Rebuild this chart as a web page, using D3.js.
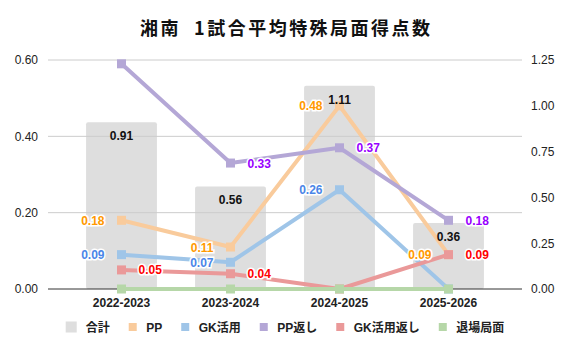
<!DOCTYPE html>
<html>
<head>
<meta charset="utf-8">
<script src="https://cdn.jsdelivr.net/npm/d3@7"></script>
<style>
  body { margin: 0; background: #fff; }
  svg { font-family: "Liberation Sans", Arial, "Noto Sans CJK JP", sans-serif; }
</style>
</head>
<body>
<div id="chart"></div>
<script>
const width = 570;
const height = 353;

const seasons = ["2022-2023", "2023-2024", "2024-2025", "2025-2026"];
const totals = [0.91, 0.56, 1.11, 0.36];          // 合計 (right axis)
const pp = [0.18, 0.11, 0.48, 0.09];
const gk = [0.09, 0.07, 0.26, 0.00];
const ppBack = [0.59, 0.33, 0.37, 0.18];
const gkBack = [0.05, 0.04, 0.00, 0.09];
const taijo = [0.00, 0.00, 0.00, 0.00];
const leftTicks = [0, 0.2, 0.4, 0.6];
const rightTicks = [0, 0.25, 0.5, 0.75, 1.0, 1.25];

// line series, drawn in this order
const series = [
    { name: "PP", values: pp, line: "#f9cb9c", label: "#ff9900", side: "left" },
    { name: "GK活用", values: gk, line: "#9fc5e8", label: "#4a86e8", side: "left" },
    { name: "PP返し", values: ppBack, line: "#b4a7d6", label: "#9900ff", side: "right", hide: [0] },
    { name: "GK活用返し", values: gkBack, line: "#ea9999", label: "#ff0000", side: "right" },
    { name: "退場局面", values: taijo, line: "#b6d7a8", label: "#38761d", side: "right" }
];

const x0 = 48, x1 = 522, yTop = 60, yBot = 289;

const svg = d3.select("#chart").append("svg")
    .attr("width", width)
    .attr("height", height);

const x = d3.scaleBand()
    .domain(seasons)
    .range([67, 503])
    .paddingInner(0.35)
    .paddingOuter(0.175);
const cx = d => x(d) + x.bandwidth() / 2;

const yL = d3.scaleLinear().domain([0, 0.6]).range([yBot, yTop]);
const yR = d3.scaleLinear().domain([0, 1.25]).range([yBot, yTop]);

// title
svg.append("text")
    .attr("x", width / 2)
    .attr("y", 35)
    .attr("text-anchor", "middle")
    .attr("font-family", "'Noto Sans CJK JP', sans-serif")
    .attr("font-weight", "bold")
    .attr("font-size", 18)
    .attr("textLength", 290)
    .attr("lengthAdjust", "spacing")
    .attr("fill", "#111")
    .text("湘南\u00a0\u00a01試合平均特殊局面得点数");

// bars
svg.selectAll("rect.bar")
    .data(totals)
    .enter()
    .append("rect")
    .attr("class", "bar")
    .attr("x", (d, i) => x(seasons[i]))
    .attr("y", d => yR(d))
    .attr("width", x.bandwidth())
    .attr("height", d => yBot - yR(d))
    .attr("rx", 2)
    .attr("fill", "#dedede");

// gridlines (over bars)
svg.selectAll("line.grid")
    .data(leftTicks.filter(t => t > 0))
    .enter()
    .append("line")
    .attr("x1", x0).attr("x2", x1)
    .attr("y1", d => yL(d)).attr("y2", d => yL(d))
    .attr("stroke", "#cccccc")
    .attr("stroke-width", 1);

// left axis
const leftAxis = svg.append("g")
    .attr("transform", `translate(${x0 - 7},0)`)
    .call(d3.axisLeft(yL).tickValues(leftTicks).tickFormat(d3.format(".2f")).tickSize(0));
leftAxis.select(".domain").remove();
leftAxis.selectAll("text").attr("font-size", 12).attr("fill", "#222").attr("font-family", "'Liberation Sans', Arial, sans-serif");

// right axis
const rightAxis = svg.append("g")
    .attr("transform", `translate(${x1 + 6},0)`)
    .call(d3.axisRight(yR).tickValues(rightTicks).tickFormat(d3.format(".2f")).tickSize(0));
rightAxis.select(".domain").remove();
rightAxis.selectAll("text").attr("font-size", 12).attr("fill", "#222").attr("font-family", "'Liberation Sans', Arial, sans-serif");

// baseline
svg.append("line")
    .attr("x1", x0).attr("x2", x1)
    .attr("y1", yBot).attr("y2", yBot)
    .attr("stroke", "#333")
    .attr("stroke-width", 1);

// x axis labels
svg.selectAll("text.xlab")
    .data(seasons)
    .enter()
    .append("text")
    .attr("class", "xlab")
    .attr("x", d => cx(d))
    .attr("y", 307)
    .attr("text-anchor", "middle")
    .attr("font-size", 12)
    .attr("font-weight", "bold")
    .attr("fill", "#222")
    .text(d => d);

// lines + markers
const lineGen = d3.line()
    .x((d, i) => cx(seasons[i]))
    .y(d => yL(d));

series.forEach(s => {
    svg.append("path")
        .datum(s.values)
        .attr("fill", "none")
        .attr("stroke", s.line)
        .attr("stroke-width", 4)
        .attr("stroke-linejoin", "round")
        .attr("d", lineGen);

    svg.selectAll(null)
        .data(s.values)
        .enter()
        .append("rect")
        .attr("x", (d, i) => cx(seasons[i]) - 4.5)
        .attr("y", d => yL(d) - 4.5)
        .attr("width", 9)
        .attr("height", 9)
        .attr("fill", s.line);
});

// line value labels
series.forEach(s => {
    svg.selectAll(null)
        .data(s.values.map((v, i) => ({ v, i })).filter(d => d.v > 0 && !(s.hide || []).includes(d.i)))
        .enter()
        .append("text")
        .attr("x", d => cx(seasons[d.i]) + (s.side === "left" ? -17 : 17))
        .attr("y", d => yL(d.v) + 4.5)
        .attr("text-anchor", s.side === "left" ? "end" : "start")
        .attr("font-size", 12)
        .attr("font-weight", "bold")
        .attr("fill", s.label)
        .attr("stroke", "#fff")
        .attr("stroke-width", 3)
        .attr("paint-order", "stroke")
        .text(d => d3.format(".2f")(d.v));
});

// bar value labels
svg.selectAll("text.barlab")
    .data(totals)
    .enter()
    .append("text")
    .attr("class", "barlab")
    .attr("x", (d, i) => cx(seasons[i]))
    .attr("y", d => yR(d) + 18)
    .attr("text-anchor", "middle")
    .attr("font-size", 12)
    .attr("font-weight", "bold")
    .attr("fill", "#111")
    .text(d => d3.format(".2f")(d));

// legend
const legendData = [{ name: "合計", color: "#dedede", size: 11 }]
    .concat(series.map(s => ({ name: s.name, color: s.line, size: 8 })));

const legend = svg.append("g");
let lx = 0;
legendData.forEach(d => {
    const g = legend.append("g").attr("transform", `translate(${lx},0)`);
    g.append("rect")
        .attr("x", 0)
        .attr("y", -d.size / 2)
        .attr("width", d.size)
        .attr("height", d.size)
        .attr("fill", d.color);
    const tx = d.size === 11 ? 20 : 17.5;
    const t = g.append("text")
        .attr("x", tx)
        .attr("y", 4.5)
        .attr("font-size", 12)
        .attr("font-weight", "bold")
        .attr("fill", "#222")
        .text(d.name);
    lx += tx + t.node().getComputedTextLength() + 19;
});
const legendWidth = lx - 19;
legend.attr("transform", `translate(${(width - legendWidth) / 2},327)`);
</script>
</body>
</html>
